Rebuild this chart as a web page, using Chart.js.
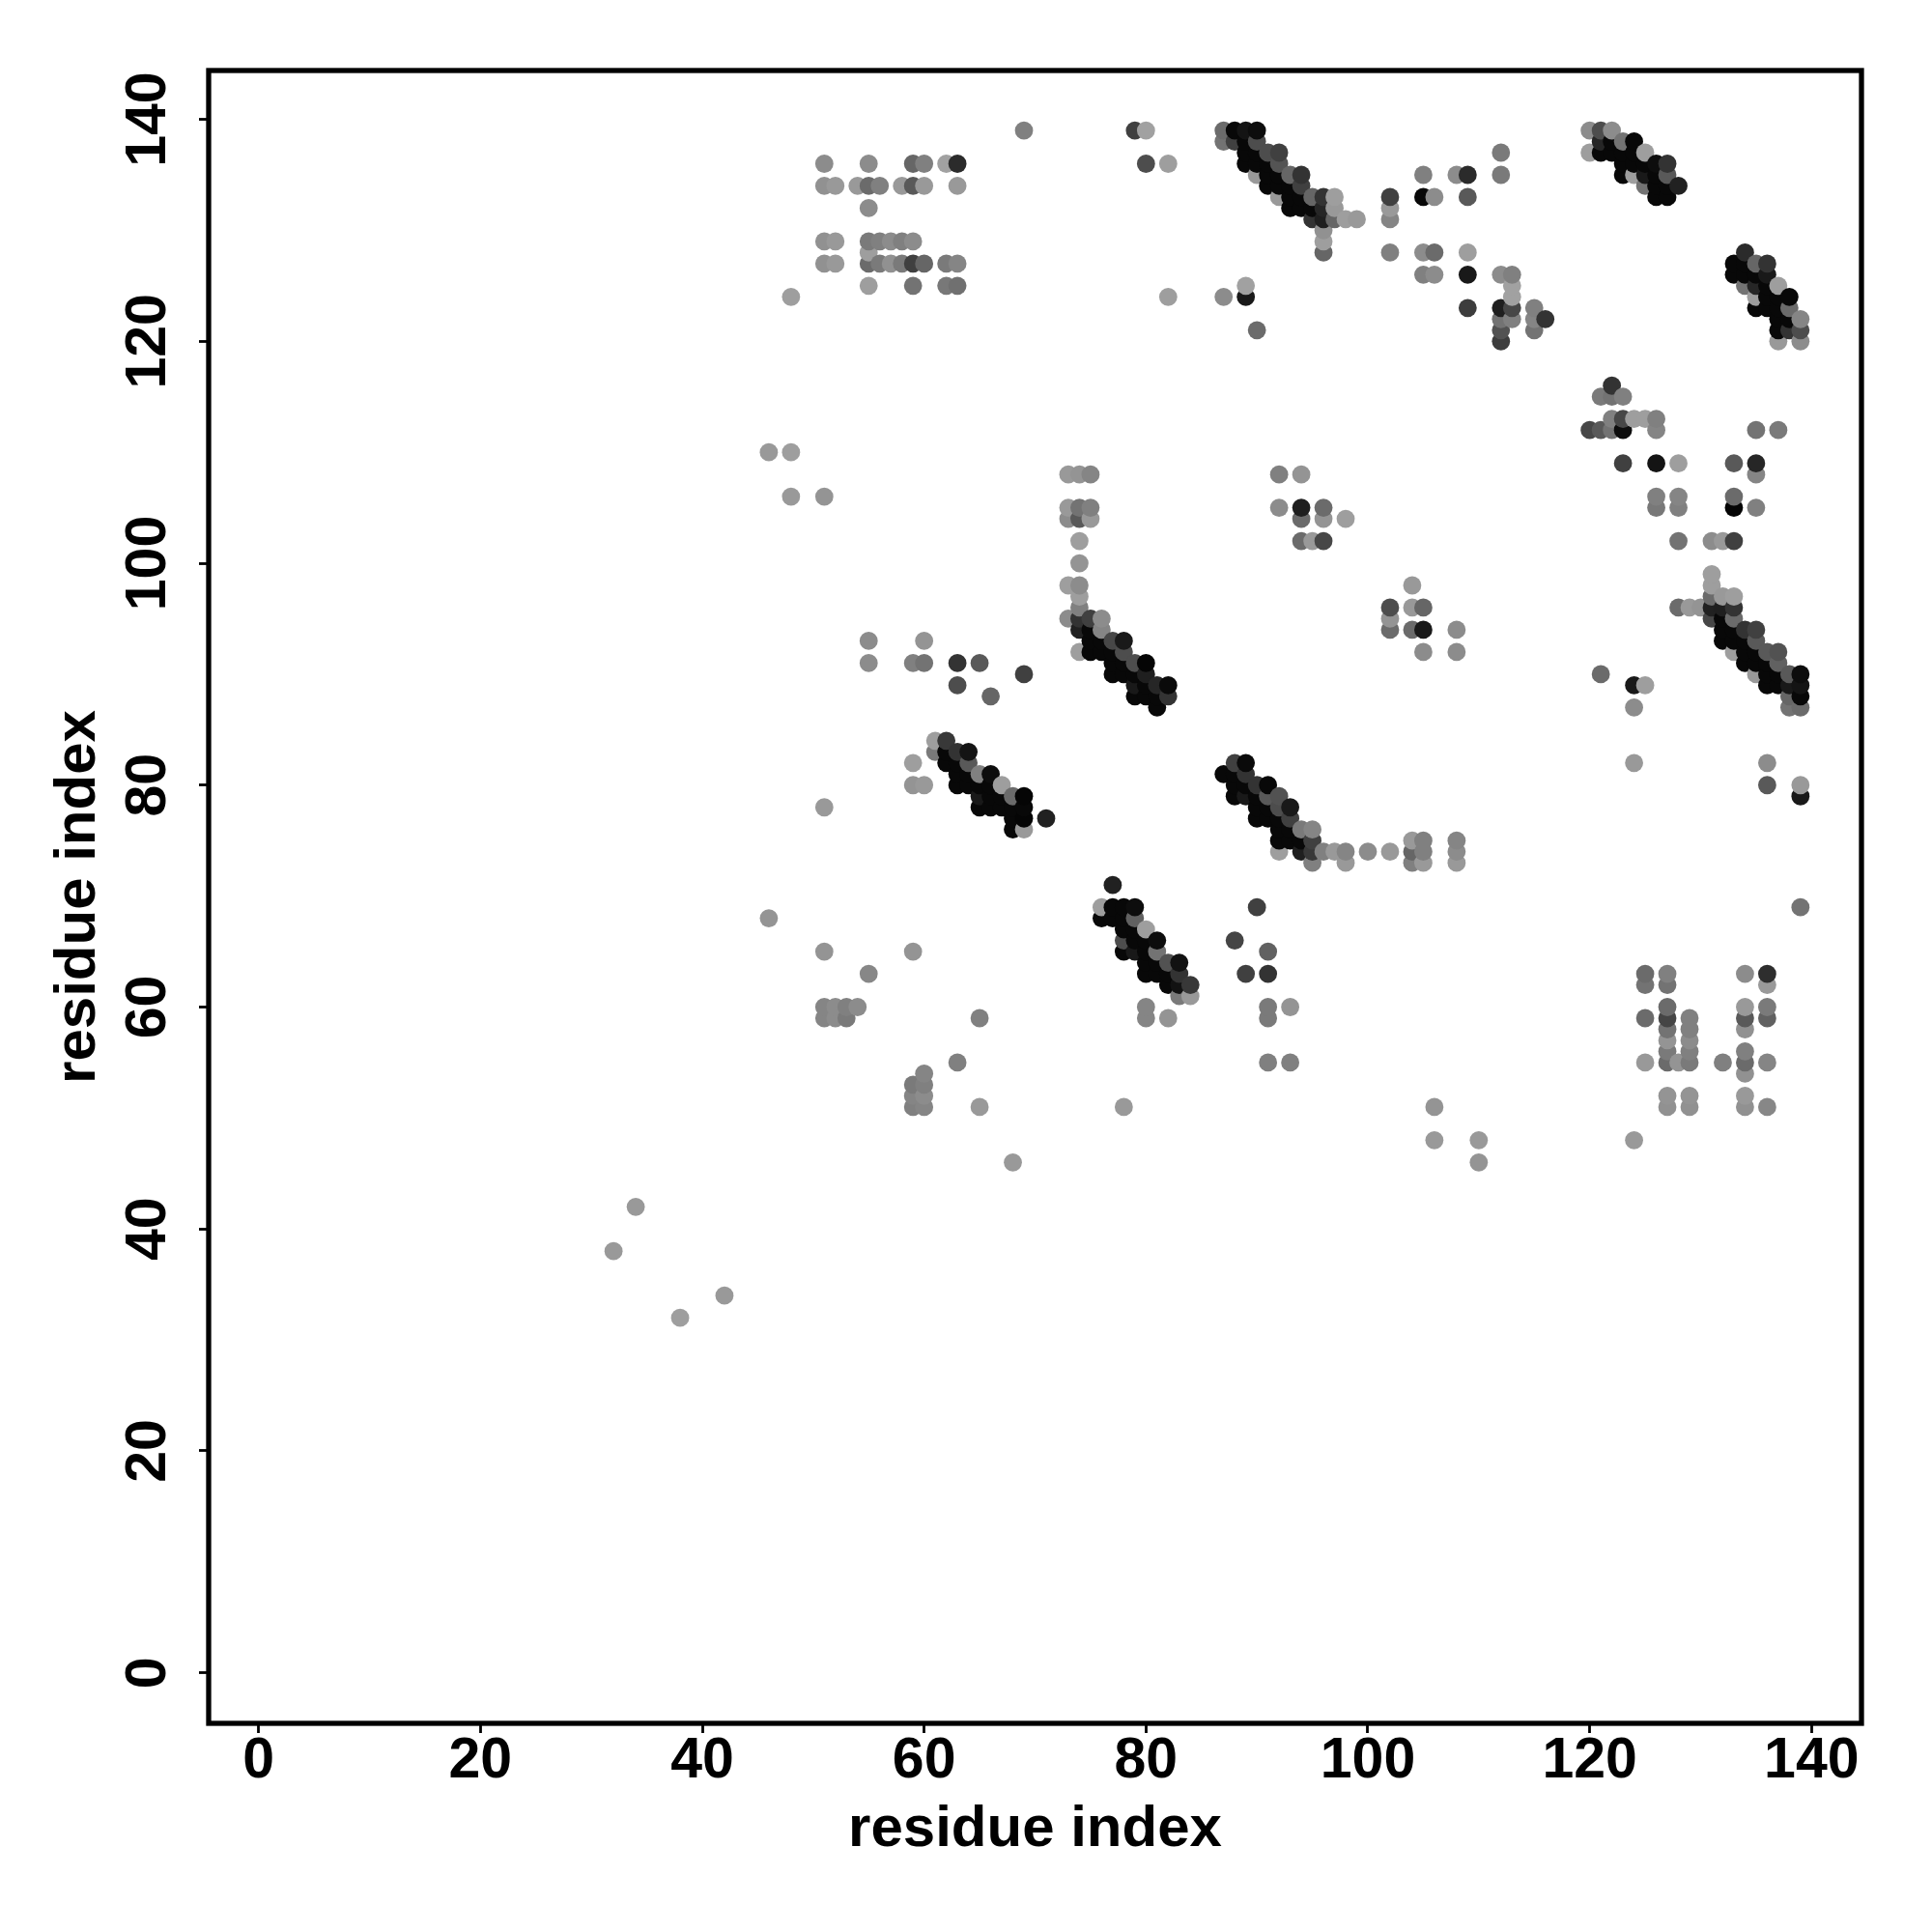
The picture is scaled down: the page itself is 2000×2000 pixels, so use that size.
<!DOCTYPE html>
<html>
<head>
<meta charset="utf-8">
<style>
  html, body { margin: 0; padding: 0; background: #fff; }
  canvas { display: block; }
</style>
<script src="https://cdn.jsdelivr.net/npm/chart.js@4/dist/chart.umd.min.js"></script>
</head>
<body>
<canvas id="contact-map" width="2000" height="2000"></canvas>
<script>
const axisTitle = 'residue index';
const tickValues = [0, 20, 40, 60, 80, 100, 120, 140];

// one entry per residue on the x axis, rows and scores line up with each other
const contactColumns = [
  32, 34, 38, 42, 46, 48, 51, 52, 53, 54, 55, 56, 57, 58, 59, 60, 61, 62, 63, 64,
  65, 66, 67, 68, 69, 71, 73, 74, 75, 76, 77, 78, 79, 80, 81, 82, 83, 84, 87, 88,
  89, 90, 91, 92, 93, 94, 95, 96, 97, 98, 99, 100, 102, 104, 105, 106, 108, 109, 110, 112,
  113, 115, 116, 120, 121, 122, 123, 124, 125, 126, 127, 128, 129, 130, 131, 132, 133, 134, 135, 136,
  137, 138, 139,
];

const contactRows = [
  [38], [42], [32], [34], [68, 110], [106, 110, 124],
  [59, 60, 65, 78, 106, 127, 129, 134, 136],
  [59, 60, 127, 129, 134],
  [59, 60],
  [60, 134],
  [63, 91, 93, 125, 127, 128, 129, 132, 134, 136],
  [127, 129, 134],
  [127, 129],
  [127, 129, 134],
  [51, 52, 53, 65, 80, 82, 91, 125, 127, 129, 134, 136],
  [51, 52, 53, 54, 80, 91, 93, 127, 134, 136],
  [83, 84],
  [82, 83, 84, 125, 127, 136],
  [55, 80, 81, 82, 83, 89, 91, 125, 127, 134, 136],
  [80, 81, 82, 83],
  [51, 59, 78, 79, 80, 81, 91],
  [78, 79, 80, 81, 88],
  [78, 79, 80],
  [46, 76, 77, 78, 79],
  [76, 77, 78, 79, 90, 139],
  [77],
  [95, 98, 104, 105, 108],
  [92, 94, 95, 96, 97, 98, 100, 102, 104, 105, 108],
  [92, 93, 94, 95, 104, 105, 108],
  [68, 69, 92, 93, 94, 95],
  [68, 69, 71, 90, 91, 92, 93],
  [51, 65, 66, 67, 68, 69, 90, 91, 92, 93],
  [65, 66, 67, 68, 69, 88, 89, 90, 91, 139],
  [59, 60, 63, 64, 65, 66, 67, 88, 89, 90, 91, 136, 139],
  [63, 64, 65, 66, 87, 88, 89],
  [59, 62, 63, 64, 88, 89, 124, 136],
  [61, 62, 63, 64],
  [61, 62],
  [81, 124, 138, 139],
  [66, 79, 80, 81, 82, 138, 139],
  [63, 79, 80, 81, 82, 124, 125, 136, 137, 138, 139],
  [69, 77, 78, 79, 80, 121, 135, 136, 137, 138, 139],
  [55, 59, 60, 63, 65, 77, 78, 79, 80, 134, 135, 136, 137],
  [74, 75, 76, 77, 78, 79, 105, 108, 133, 134, 135, 136, 137],
  [55, 60, 75, 76, 77, 78, 132, 133, 134, 135],
  [74, 75, 76, 102, 104, 105, 108, 132, 133, 134, 135],
  [73, 74, 75, 76, 102, 131, 132, 133],
  [74, 102, 104, 105, 128, 129, 130, 131, 132, 133],
  [74, 131, 132, 133],
  [73, 74, 104, 131],
  [131],
  [74],
  [74, 94, 95, 96, 128, 131, 132, 133],
  [73, 74, 75, 94, 96, 98],
  [73, 74, 75, 92, 94, 96, 126, 128, 133, 135],
  [48, 51, 126, 128, 133],
  [73, 74, 75, 92, 94, 135],
  [123, 126, 128, 133, 135],
  [46, 48],
  [120, 121, 122, 123, 126, 135, 137],
  [122, 123, 124, 125, 126],
  [121, 122, 123],
  [122],
  [112, 137, 139],
  [90, 112, 115, 137, 138, 139],
  [112, 113, 115, 116, 137, 138, 139],
  [109, 112, 113, 115, 135, 136, 137, 138],
  [48, 82, 87, 89, 113, 135, 136, 137, 138],
  [55, 59, 62, 63, 89, 113, 134, 135, 136, 137],
  [105, 106, 109, 112, 113, 133, 134, 135, 136],
  [51, 52, 55, 56, 57, 58, 59, 60, 62, 63, 133, 134, 135, 136],
  [55, 96, 102, 105, 106, 109, 134],
  [51, 52, 55, 56, 57, 58, 59, 96],
  [96],
  [95, 96, 97, 98, 99, 102],
  [55, 93, 94, 95, 96, 97, 102],
  [92, 93, 94, 95, 96, 97, 102, 105, 106, 109, 126, 127],
  [51, 52, 54, 55, 56, 58, 59, 60, 63, 91, 92, 93, 94, 125, 126, 127, 128],
  [90, 91, 92, 93, 94, 105, 108, 109, 112, 123, 124, 125, 126, 127],
  [51, 55, 59, 60, 62, 63, 80, 82, 89, 90, 91, 92, 123, 124, 125, 126, 127],
  [89, 90, 91, 92, 112, 120, 121, 122, 123, 124, 125],
  [87, 88, 89, 90, 121, 122, 123, 124],
  [69, 79, 80, 87, 88, 89, 90, 120, 121, 122],
];

const contactScores = [
  [40], [40], [38], [40], [42, 40], [40, 38, 38],
  [48, 48, 42, 40, 42, 43, 43, 43, 45],
  [45, 45, 40, 40, 40],
  [52, 50],
  [45, 40],
  [47, 45, 45, 38, 58, 38, 52, 45, 58, 45],
  [52, 50, 50],
  [43, 45],
  [52, 50, 40],
  [50, 48, 52, 42, 42, 38, 50, 55, 75, 45, 65, 60],
  [48, 45, 50, 48, 40, 55, 42, 60, 40, 50],
  [52, 38],
  [97, 97, 78, 53, 52, 37],
  [50, 97, 97, 97, 80, 70, 80, 56, 48, 40, 83],
  [97, 97, 65, 92],
  [40, 50, 97, 90, 97, 50, 65],
  [97, 97, 97, 95, 60],
  [97, 97, 38],
  [40, 97, 97, 97, 58],
  [40, 98, 97, 98, 75, 50],
  [87],
  [45, 38, 45, 40, 40],
  [38, 87, 80, 50, 38, 45, 42, 38, 65, 55, 42],
  [97, 97, 97, 75, 40, 50, 48],
  [97, 38, 97, 97, 48, 45],
  [97, 97, 87, 97, 97, 97, 72],
  [40, 97, 70, 97, 97, 97, 97, 97, 70, 90],
  [90, 97, 97, 62, 95, 97, 90, 97, 70, 75],
  [48, 48, 97, 97, 97, 97, 38, 97, 97, 88, 98, 70, 37],
  [97, 97, 55, 95, 97, 97, 85],
  [42, 97, 97, 68, 80, 96, 38, 38],
  [52, 93, 80, 93],
  [40, 78],
  [97, 45, 55, 58],
  [73, 97, 97, 97, 75, 75, 97],
  [75, 90, 97, 80, 96, 90, 37, 97, 97, 97, 92],
  [75, 97, 97, 97, 80, 58, 40, 97, 97, 70, 95],
  [50, 52, 52, 80, 62, 97, 97, 65, 97, 97, 97, 97, 70],
  [38, 97, 97, 97, 70, 68, 45, 50, 40, 97, 97, 67, 75],
  [50, 42, 97, 97, 75, 90, 97, 97, 97, 60],
  [88, 97, 52, 58, 58, 88, 42, 97, 97, 75, 80],
  [50, 78, 75, 48, 40, 80, 97, 60],
  [50, 72, 42, 58, 60, 38, 43, 88, 85, 80],
  [40, 60, 40, 38],
  [40, 48, 38, 38],
  [40],
  [45],
  [40, 58, 42, 70, 50, 48, 40, 75],
  [50, 60, 40, 58, 40, 40],
  [40, 50, 50, 45, 90, 60, 50, 45, 97, 50],
  [40, 42, 45, 58, 45, 45],
  [40, 45, 48, 45, 45, 45],
  [76, 90, 38, 65, 83],
  [42, 40],
  [76, 68, 55, 88, 45, 52, 52],
  [50, 72, 37, 37, 50],
  [55, 48, 50],
  [80],
  [72, 38, 45],
  [58, 65, 52, 97, 85, 70],
  [55, 50, 55, 80, 97, 97, 45],
  [75, 95, 72, 50, 97, 97, 97, 55],
  [40, 40, 45, 90, 38, 38, 97, 97, 97],
  [40, 58, 55, 58, 38, 38, 55, 90, 97, 38],
  [53, 50, 92, 48, 50, 97, 97, 97, 95],
  [43, 42, 58, 52, 42, 55, 73, 58, 55, 50, 97, 97, 65, 80],
  [42, 58, 55, 50, 48, 38, 87],
  [43, 42, 52, 50, 45, 50, 50, 40],
  [42],
  [72, 87, 58, 38, 38, 45],
  [50, 97, 97, 97, 88, 40, 40],
  [38, 97, 97, 58, 80, 38, 75, 98, 58, 65, 97, 97],
  [43, 40, 43, 58, 50, 43, 65, 40, 45, 97, 97, 97, 80, 55, 97, 97, 83],
  [40, 97, 97, 65, 75, 50, 48, 85, 55, 97, 38, 85, 97, 60],
  [47, 48, 62, 52, 40, 82, 65, 45, 97, 97, 97, 65, 97, 97, 97, 90, 80],
  [97, 97, 62, 68, 52, 40, 97, 97, 97, 97, 38],
  [55, 60, 90, 65, 80, 97, 58, 97],
  [55, 90, 40, 58, 97, 92, 95, 45, 70, 48],
];

const residueX = [];
const residueY = [];
const scores = [];
contactColumns.forEach((col, i) => {
  contactRows[i].forEach((row, j) => {
    residueX.push(col);
    residueY.push(row);
    scores.push(contactScores[i][j]);
  });
});

function scoreToGrey(score) {
  const g = Math.round(255 * (1 - score / 100));
  return `rgb(${g},${g},${g})`;
}

const tickFont = { family: "'Liberation Sans', Arial, sans-serif", size: 59, weight: 'bold' };
const titleFont = { family: "'Liberation Sans', Arial, sans-serif", size: 60, weight: 'bold' };

const framePlugin = {
  id: 'frame',
  afterDatasetsDraw(chart) {
    const { ctx, chartArea: a } = chart;
    ctx.save();
    ctx.strokeStyle = '#000';
    ctx.lineWidth = 5.3;
    ctx.strokeRect(a.left, a.top, a.right - a.left, a.bottom - a.top);
    ctx.restore();
  },
};

function residueAxis(position, min, max) {
  const isY = position === 'left';
  return {
    type: 'linear',
    position,
    min,
    max,
    afterBuildTicks: (scale) => { scale.ticks = tickValues.map((value) => ({ value })); },
    afterFit: (scale) => {
      if (isY) scale.width = 216;
      else scale.height = 216;
    },
    border: { display: false },
    grid: {
      display: true,
      drawOnChartArea: false,
      drawTicks: true,
      tickLength: 10,
      tickWidth: 2.8,
      tickColor: '#000',
    },
    ticks: {
      autoSkip: false,
      color: '#000',
      font: tickFont,
      padding: isY ? 2 : -6,
      minRotation: isY ? 90 : 0,
      maxRotation: isY ? 90 : 0,
      crossAlign: isY ? 'center' : 'near',
    },
    title: {
      display: true,
      text: axisTitle,
      color: '#000',
      font: titleFont,
      padding: { top: isY ? 45 : 0, bottom: isY ? 0 : 70 },
    },
  };
}

new Chart(document.getElementById('contact-map'), {
  type: 'scatter',
  data: {
    datasets: [{
      label: 'contacts',
      data: residueX.map((x, i) => ({ x, y: residueY[i] })),
      pointRadius: 9.4,
      pointHoverRadius: 9.4,
      pointBorderWidth: 0,
      pointBackgroundColor: scores.map(scoreToGrey),
    }],
  },
  options: {
    responsive: false,
    animation: false,
    devicePixelRatio: 1,
    layout: { padding: { top: 73, right: 73, left: 0, bottom: 0 } },
    plugins: { legend: { display: false }, tooltip: { enabled: false } },
    scales: {
      x: residueAxis('bottom', -4.5, 144.5),
      y: residueAxis('left', -4.55, 144.4),
    },
  },
  plugins: [framePlugin],
});
</script>
</body>
</html>
